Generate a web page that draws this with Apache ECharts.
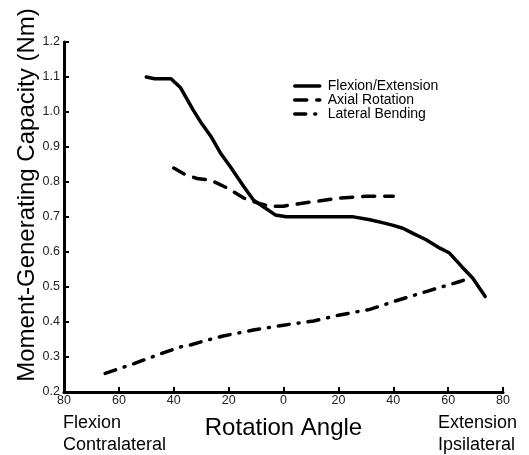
<!DOCTYPE html>
<html>
<head>
<meta charset="utf-8">
<script src="https://cdn.jsdelivr.net/npm/echarts@6/dist/echarts.min.js"></script>
<style>
  html, body { margin: 0; padding: 0; background: #fff; }
  #chart { width: 529px; height: 455px; }
</style>
</head>
<body>
<div id="chart"></div>
<script>
// 数据
const flexX = [-50, -47, -41, -37.5, -33, -30, -26.5, -23, -19.5, -14.5, -11, -7.5, -3, 1, 10, 20, 25, 31.5, 36, 40, 43.5, 47, 52, 57, 60.5, 65, 69, 73.5];
const flexY = [1.10, 1.095, 1.095, 1.069, 1.007, 0.969, 0.931, 0.883, 0.845, 0.787, 0.749, 0.730, 0.706, 0.701, 0.701, 0.701, 0.701, 0.692, 0.684, 0.676, 0.668, 0.654, 0.635, 0.611, 0.597, 0.558, 0.525, 0.473];

const axialX = [-40, -36, -31.5, -26.5, -20.5, -14.5, -11, -5, 0, 3, 11, 20.5, 30, 40];
const axialY = [0.840, 0.822, 0.810, 0.805, 0.783, 0.754, 0.744, 0.730, 0.731, 0.735, 0.744, 0.754, 0.759, 0.759];

const latX = [-65, -54.5, -44.5, -37.5, -34, -28, -22, -11, 0, 11, 20.5, 31.5, 40, 52, 64, 68];
const latY = [0.253, 0.281, 0.310, 0.329, 0.334, 0.348, 0.360, 0.377, 0.391, 0.403, 0.420, 0.436, 0.458, 0.487, 0.515, 0.525];

const seriesNames = ['Flexion/Extension', 'Axial Rotation', 'Lateral Bending'];

const FONT = 'Liberation Sans, Arial, sans-serif';

const chart = echarts.init(document.getElementById('chart'));

function pairs(xs, ys) {
    return xs.map((x, i) => [x, ys[i]]);
}

const option = {
    animation: false,
    backgroundColor: '#fff',
    grid: { left: 64, right: 26, top: 42, bottom: 63 },
    legend: {
        left: 288,
        top: 74,
        orient: 'vertical',
        itemWidth: 25,
        itemHeight: 10,
        itemGap: 0,
        data: seriesNames,
        itemStyle: { opacity: 0, borderWidth: 0 },
        lineStyle: { width: 3.5 },
        textStyle: { fontFamily: FONT, fontSize: 14, color: '#000', lineHeight: 13, padding: [0, 0, 0, 3] }
    },
    xAxis: {
        type: 'value',
        min: -80,
        max: 80,
        interval: 20,
        name: 'Rotation Angle',
        nameLocation: 'middle',
        nameGap: 24,
        nameTextStyle: { fontFamily: FONT, fontSize: 24, color: '#000' },
        splitLine: { show: false },
        axisLine: { onZero: false, lineStyle: { color: '#000', width: 3 } },
        axisTick: { inside: true, length: 5, lineStyle: { color: '#000', width: 2 } },
        axisLabel: {
            margin: 2,
            fontFamily: FONT, fontSize: 12.5, color: '#222',
            formatter: v => String(Math.abs(v))
        }
    },
    yAxis: {
        type: 'value',
        min: 0.2,
        max: 1.2,
        interval: 0.1,
        splitLine: { show: false },
        axisLine: { show: true, onZero: false, lineStyle: { color: '#000', width: 3 } },
        axisTick: { show: true, inside: true, length: 5, lineStyle: { color: '#000', width: 2 } },
        axisLabel: {
            margin: 4,
            fontFamily: FONT, fontSize: 12.5, color: '#222',
            formatter: v => v.toFixed(1)
        }
    },
    graphic: [
        {
            type: 'text', x: 27, y: 195, rotation: Math.PI / 2,
            style: { text: 'Moment-Generating Capacity (Nm)', fontFamily: FONT, fontSize: 24, fill: '#000',
                     align: 'center', verticalAlign: 'middle', textAlign: 'center', textVerticalAlign: 'middle' }
        },
        { type: 'text', x: 63, y: 414, style: { text: 'Flexion', fontFamily: FONT, fontSize: 18, fill: '#000' } },
        { type: 'text', x: 63, y: 436, style: { text: 'Contralateral', fontFamily: FONT, fontSize: 18, fill: '#000' } },
        { type: 'text', x: 438, y: 414, style: { text: 'Extension', fontFamily: FONT, fontSize: 18, fill: '#000' } },
        { type: 'text', x: 438, y: 436, style: { text: 'Ipsilateral', fontFamily: FONT, fontSize: 18, fill: '#000' } }
    ],
    series: [
        {
            name: seriesNames[0],
            type: 'line',
            symbol: 'none',
            data: pairs(flexX, flexY),
            lineStyle: { color: '#000', width: 3.5, cap: 'round', join: 'round' },
            itemStyle: { color: '#000' }
        },
        {
            name: seriesNames[1],
            type: 'line',
            symbol: 'none',
            data: pairs(axialX, axialY),
            lineStyle: { color: '#000', width: 3.5, type: [12, 10], cap: 'round', join: 'round' },
            itemStyle: { color: '#000' }
        },
        {
            name: seriesNames[2],
            type: 'line',
            symbol: 'none',
            data: pairs(latX, latY),
            lineStyle: { color: '#000', width: 3.5, type: [11, 9, 1, 9], cap: 'round', join: 'round' },
            itemStyle: { color: '#000' }
        }
    ]
};

chart.setOption(option);

window.addEventListener('resize', function() {
    chart.resize();
});
</script>
</body>
</html>
